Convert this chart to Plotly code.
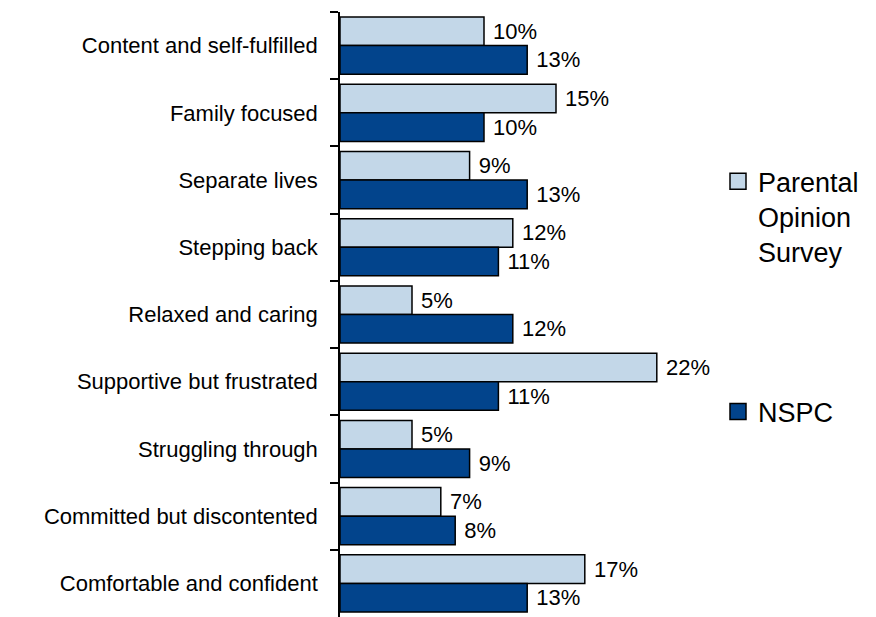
import plotly.graph_objects as go

# Segment names, top to bottom
segments = [
    "Content and self-fulfilled",
    "Family focused",
    "Separate lives",
    "Stepping back",
    "Relaxed and caring",
    "Supportive but frustrated",
    "Struggling through",
    "Committed but discontented",
    "Comfortable and confident",
]

# Share of parents in each segment (%)
parental_opinion_survey = [10, 15, 9, 12, 5, 22, 5, 7, 17]
nspc = [13, 10, 13, 11, 12, 11, 9, 8, 13]

series_names = ["Parental<br>Opinion<br>Survey", "NSPC"]
series_colors = ["#C3D7E8", "#02448C"]
series_values = [parental_opinion_survey, nspc]

FONT = "Arial, Liberation Sans, sans-serif"

fig = go.Figure()

for name, color, vals in zip(series_names, series_colors, series_values):
    fig.add_trace(go.Bar(
        y=segments,
        x=vals,
        orientation="h",
        marker=dict(color=color, line=dict(color="black", width=1.5)),
        texttemplate="\u00a0%{x}%",
        textposition="outside",
        constraintext="none",
        cliponaxis=False,
        textfont=dict(family=FONT, size=22, color="black"),
        showlegend=False,
        hoverinfo="skip",
    ))

# Legend entries with larger square swatches
for i, (name, color) in enumerate(zip(series_names, series_colors)):
    fig.add_trace(go.Scatter(
        x=[None], y=[None],
        mode="markers",
        name=name,
        legendgroup=f"g{i}",
        marker=dict(symbol="square", size=16, color=color,
                    line=dict(color="black", width=1.5)),
    ))

fig.update_layout(
    width=876,
    height=617,
    margin=dict(l=340, r=176, t=12, b=0),
    paper_bgcolor="white",
    plot_bgcolor="white",
    barmode="group",
    bargap=0.15,
    bargroupgap=0,
    font=dict(family=FONT, color="black"),
    legend=dict(
        x=1.05, xanchor="left",
        y=0.76, yanchor="top",
        font=dict(family=FONT, size=27, color="black"),
        traceorder="grouped",
        tracegroupgap=122,
        valign="top",
        itemsizing="trace",
        bgcolor="rgba(0,0,0,0)",
    ),
)

fig.update_xaxes(range=[0, 25], visible=False, fixedrange=True)
fig.update_yaxes(
    autorange="reversed",
    showline=True, linecolor="black", linewidth=1.5,
    ticks="outside", tickson="boundaries", ticklen=8, tickwidth=1.5,
    tickcolor="black",
    showgrid=False,
    tickfont=dict(family=FONT, size=22, color="black"),
    ticklabelstandoff=16,
)

fig.write_html("out.html")
